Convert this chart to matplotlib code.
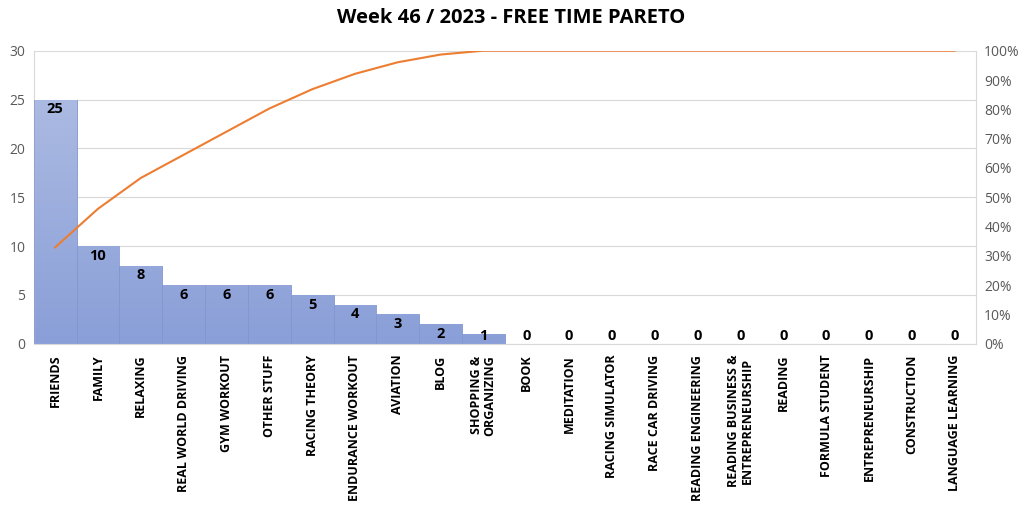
"""Weekly free time Pareto chart (week 46 / 2023)."""
import numpy as np
import matplotlib.pyplot as plt
from matplotlib.ticker import PercentFormatter

categories = [
    "FRIENDS", "FAMILY", "RELAXING", "REAL WORLD DRIVING", "GYM WORKOUT",
    "OTHER STUFF", "RACING THEORY", "ENDURANCE WORKOUT", "AVIATION", "BLOG",
    "SHOPPING &\nORGANIZING", "BOOK", "MEDITATION", "RACING SIMULATOR",
    "RACE CAR DRIVING", "READING ENGINEERING",
    "READING BUSINESS &\nENTREPRENEURSHIP", "READING", "FORMULA STUDENT",
    "ENTREPRENEURSHIP", "CONSTRUCTION", "LANGUAGE LEARNING",
]
hours = [25, 10, 8, 6, 6, 6, 5, 4, 3, 2, 1, 0, 0, 0, 0, 0, 0, 0, 0, 0, 0, 0]

plt.rcParams["font.family"] = ["Open Sans", "DejaVu Sans"]

fig = plt.figure(figsize=(10.23, 5.07), dpi=100)
ax = fig.add_axes([0.033, 0.322, 0.921, 0.578])

x = np.arange(len(categories))
cum = np.cumsum(hours) / sum(hours) * 100

bars = ax.bar(x, hours, width=1.0, color="#97AADC", edgecolor="#8395CE",
              linewidth=0.6, zorder=2)

# vertical gradient, lighter at the top
grad = np.linspace(0, 1, 256).reshape(-1, 1)
cmap = plt.matplotlib.colors.LinearSegmentedColormap.from_list(
    "g", ["#8A9FD8", "#ABBAE2"])
for b in bars:
    if b.get_height() <= 0:
        continue
    im = ax.imshow(grad, cmap=cmap, aspect="auto", origin="lower",
                   extent=[b.get_x(), b.get_x() + b.get_width(), 0, 25],
                   zorder=2)
    im.set_clip_path(b)
    ax.plot([b.get_x(), b.get_x()], [0, b.get_height()], color="#8395CE",
            linewidth=0.6, zorder=3)

for xi, v in zip(x, hours):
    ax.text(xi, max(v - 1.0, 0.8), str(v), ha="center", va="center",
            fontsize=10.5, fontweight="bold", color="black", zorder=4)

ax.set_xlim(-0.5, len(categories) - 0.5)
ax.set_ylim(0, 30)
ax.set_yticks(range(0, 31, 5))
ax.grid(axis="y", color="#D9D9D9", linewidth=0.8, zorder=0)
ax.set_axisbelow(True)
ax.set_xticks(x)
ax.set_xticklabels(categories, rotation=90, fontsize=9, fontweight="bold",
                   linespacing=1.0)
ax.tick_params(axis="x", length=0, pad=8)
ax.tick_params(axis="y", length=0, labelsize=10, labelcolor="#595959", pad=6)
ax.spines["top"].set_visible(False)
for s in ["left", "right", "bottom"]:
    ax.spines[s].set_color("#D9D9D9")

ax2 = ax.twinx()
ax2.plot(x, cum, color="#ED7D31", linewidth=1.5, zorder=5)
ax2.set_ylim(0, 100)
ax2.set_yticks(range(0, 101, 10))
ax2.yaxis.set_major_formatter(PercentFormatter(decimals=0))
ax2.tick_params(axis="y", length=0, labelsize=10, labelcolor="#595959", pad=6)
for s in ax2.spines.values():
    s.set_visible(False)

fig.suptitle("Week 46 / 2023 - FREE TIME PARETO", y=0.985, fontsize=14.5,
             fontweight="bold")

fig.savefig("out.png", dpi=100)
